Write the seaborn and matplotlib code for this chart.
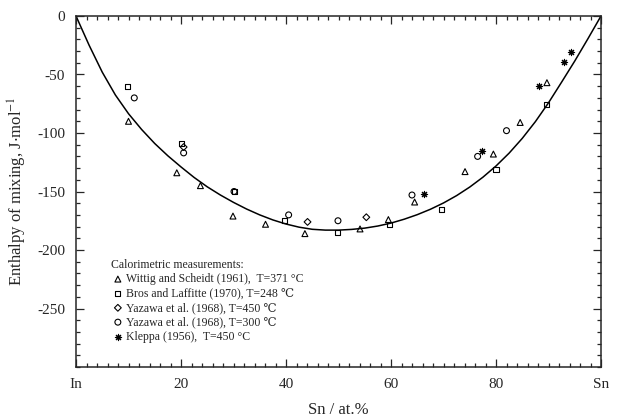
import numpy as np
import pandas as pd
import matplotlib
matplotlib.use("Agg")
import matplotlib.pyplot as plt
from matplotlib.ticker import MultipleLocator, FixedLocator
import seaborn as sns

# Calorimetric data (x = Sn at.%, y = J/mol)
wittig_x = [10, 19.2, 23.7, 29.9, 36.1, 43.6, 54.1, 59.5, 64.5, 74.1, 79.5, 84.6, 89.7]
wittig_y = [-90, -134, -145, -171, -178, -186, -182, -174, -159, -133, -118, -91, -57]
bros_x = [9.8, 20.1, 30.1, 39.8, 49.9, 59.8, 69.6, 80.0, 89.6]
bros_y = [-60, -109, -150, -175, -185, -178, -165, -131, -76]
yaz450_x = [20.5, 44.1, 55.3]
yaz450_y = [-112, -176, -172]
yaz300_x = [11.1, 20.5, 30.1, 40.5, 49.9, 64.0, 76.5, 82.0]
yaz300_y = [-70, -117, -150, -170, -175, -153, -120, -98]
kleppa_x = [66.2, 77.4, 88.2, 92.9, 94.2]
kleppa_y = [-152, -115, -60, -39, -31]

# assessed curve, read every 2.5 at.%
curve_x = [0, 2.5, 5, 7.5, 10, 12.5, 15, 17.5, 20, 22.5, 25, 27.5, 30, 32.5, 35, 37.5,
           40, 42.5, 45, 47.5, 50, 52.5, 55, 57.5, 60, 62.5, 65, 67.5, 70, 72.5, 75,
           77.5, 80, 82.5, 85, 87.5, 90, 92.5, 95, 97.5, 100]
curve_y = [0, -25, -48, -67.5, -83.5, -97, -109, -119.5, -129, -138, -146, -153, -159.3,
           -165, -170, -174.3, -177.8, -180.5, -182.3, -183, -183, -182.4, -181.3, -179.5,
           -177, -173.7, -169.8, -165.2, -159.8, -153.5, -146.2, -137.8, -128.2, -117.2,
           -104.6, -90.3, -74.2, -56.5, -38.5, -19.5, 0]

xtick_pos = [0, 20, 40, 60, 80, 100]
xtick_labels = ["In", "20", "40", "60", "80", "Sn"]
ytick_pos = [0, -50, -100, -150, -200, -250]
ytick_labels = ["0", "-50", "-100", "-150", "-200", "-250"]

sns.set_style("ticks")
plt.rcParams['font.family'] = ['Liberation Serif', 'DejaVu Serif']
plt.rcParams['mathtext.fontset'] = 'stix'
plt.rcParams['xtick.direction'] = 'in'
plt.rcParams['ytick.direction'] = 'in'

fig = plt.figure(figsize=(6.19, 4.19), dpi=100)
ax = fig.add_axes([76 / 619, 1 - 367 / 419, 525 / 619, 351 / 419])

curve = pd.DataFrame({'x': curve_x, 'y': curve_y})
sns.lineplot(data=curve, x='x', y='y', color='black', lw=1.1, ax=ax)

series = [
    (wittig_x, wittig_y, '^', 18, "Wittig and Scheidt (1961),  T=371 \u00b0C"),
    (bros_x, bros_y, 's', 13, "Bros and Laffitte (1970), T=248 \u2103"),
    (yaz450_x, yaz450_y, 'D', 12, "Yazawa et al. (1968), T=450 \u2103"),
    (yaz300_x, yaz300_y, 'o', 18, "Yazawa et al. (1968), T=300 \u2103"),
]
for xs, ys, m, s, lab in series:
    sns.scatterplot(x=xs, y=ys, marker=m, s=s, facecolor='none', edgecolor='black',
                    linewidth=0.8, label=lab, ax=ax, zorder=3)
sns.scatterplot(x=kleppa_x, y=kleppa_y, marker=(8, 2, 0), s=20, color='black',
                linewidth=0.8, label="Kleppa (1956),  T=450 \u00b0C", ax=ax, zorder=3)

ax.set_xlim(0, 100)
ax.set_ylim(-300, 0)
ax.xaxis.set_major_locator(FixedLocator(xtick_pos))
ax.set_xticklabels(xtick_labels)
ax.xaxis.set_minor_locator(MultipleLocator(2))
ax.yaxis.set_major_locator(FixedLocator(ytick_pos))
ax.set_yticklabels(ytick_labels)
ax.yaxis.set_minor_locator(MultipleLocator(10))
ax.tick_params(which='both', top=True, right=True, labelsize=11, width=0.9)
ax.tick_params(which='major', length=6, pad=8)
ax.tick_params(which='minor', length=3)
for sp in ax.spines.values():
    sp.set_linewidth(1.1)

ax.set_xlabel("Sn / at.%", fontsize=12, labelpad=8)
ax.set_ylabel("Enthalpy of mixing, J$\\cdot$mol$^{-1}$", fontsize=12, labelpad=6)

leg = ax.legend(loc='upper left', bbox_to_anchor=(0.055, 0.325), frameon=False,
                title="Calorimetric measurements:", fontsize=8.5, title_fontsize=8.5,
                handletextpad=0.1, labelspacing=0.2, borderpad=0, handlelength=1.2)
leg._legend_box.align = "left"

fig.savefig("out.png", dpi=100)
